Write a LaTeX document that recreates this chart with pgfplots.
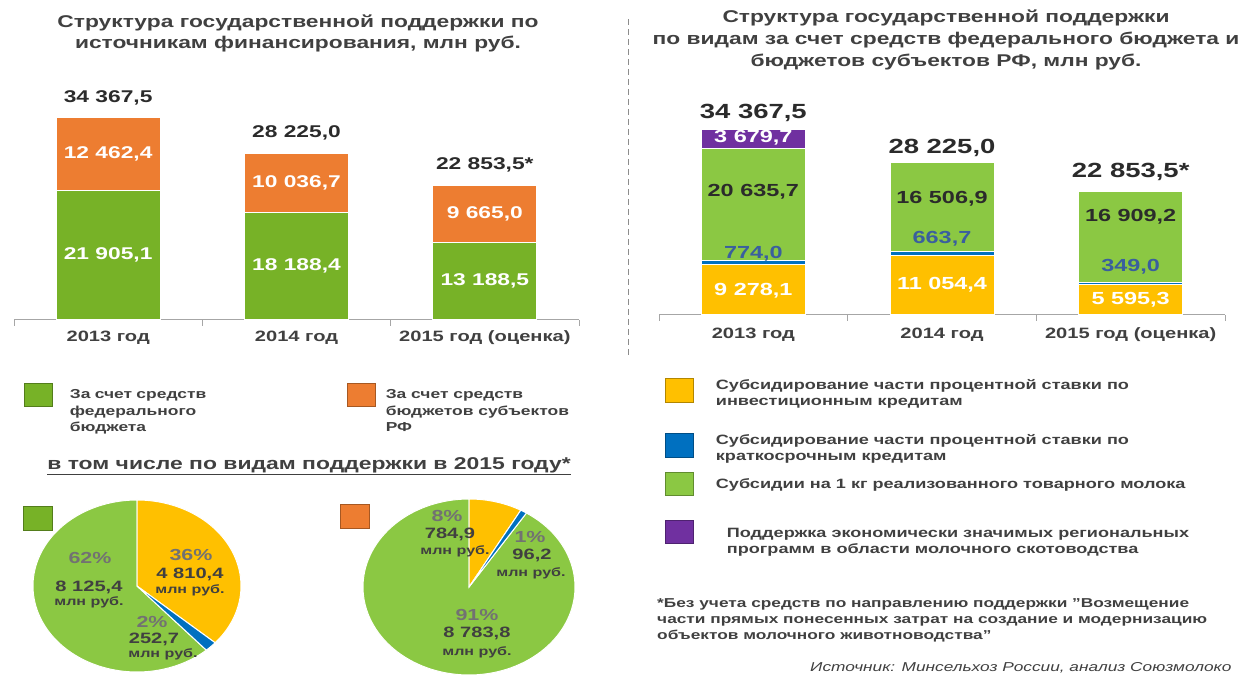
\documentclass[border=0pt]{standalone}
\usepackage{pgfplots}
\pgfplotsset{compat=1.18}
\usepackage{fontspec}
\setmainfont{Liberation Sans}[FakeStretch=1.34]
\definecolor{gL}{HTML}{77B227}
\definecolor{gR}{HTML}{8BC843}
\definecolor{org}{HTML}{ED7D31}
\definecolor{yel}{HTML}{FFC000}
\definecolor{blu}{HTML}{0070C0}
\definecolor{pur}{HTML}{7030A0}
\definecolor{txt}{HTML}{404040}
\definecolor{dk}{HTML}{2B2B2B}
\definecolor{bluetxt}{HTML}{3A5F9E}
\definecolor{pct}{HTML}{727272}
\newcommand\fs[2]{\fontsize{#1}{#2}\selectfont}
\newcommand\dq{{\char34}}
\pgfplotsset{
  sq/.style n args={4}{legend image code/.code={\filldraw[fill=#1, draw=#1!70!black, line width=0.8pt] (0pt,#2) rectangle (28pt,#3); \path (#4,0pt);}},
  pieleg/.style={legend image code/.code={\filldraw[fill=#1, draw=#1!70!black, line width=0.8pt] (0pt,-24pt) rectangle (29pt,0pt);}},
  baraxis/.style={
    scale only axis, anchor=south west,
    xmin=-0.5, xmax=2.5, ymin=0, ymax=36000, enlargelimits=false,
    axis x line=bottom, axis y line=none,
    axis line style={-, draw=black!35, line width=1pt},
    xtick={0,1,2}, xticklabels={2013 год,2014 год,2015 год (оценка)},
    minor xtick={-0.5,0.5,1.5,2.5},
    major tick length=0pt, minor tick length=6pt, tick align=outside,
    minor tick style={draw=black!35, line width=1pt},
    ytick=\empty,
    ybar stacked, bar width=104pt, clip=false,
  },
  pieaxis/.style={scale only axis, anchor=center, hide axis, clip=false,
    xmin=-1, xmax=1, ymin=-1, ymax=1,
    legend style={anchor=north west, draw=none, fill=none, inner sep=0pt, nodes={inner sep=0pt}}},
}
\tikzset{
  lbl/.style={font=\bfseries\fs{17}{20}},
  tot/.style={font=\bfseries\fs{17}{20}, text=dk},
  rlbl/.style={font=\bfseries\fs{17.5}{20}},
  rtot/.style={font=\bfseries\fs{20.5}{24}, text=dk},
  pp/.style={font=\bfseries\fs{16}{18}, text=pct},
  pv/.style={font=\bfseries\fs{15}{18}, text=txt},
  pm/.style={font=\bfseries\fs{12}{14}, text=txt},
}
\begin{document}
\begin{tikzpicture}[x=1pt,y=1pt]
\path[use as bounding box] (0,0) rectangle (1242,677);
% titles
\node[align=center, font=\bfseries\fs{17}{21.5}, text=txt] at (298,643.5)
  {Структура государственной поддержки по\\источникам финансирования, млн руб.};
\node[align=center, font=\bfseries\fs{17}{22}, text=txt] at (946,637)
  {Структура государственной поддержки\\по видам за счет средств федерального бюджета и\\бюджетов субъектов РФ, млн руб.};
\draw[black!45, line width=1pt, dash pattern=on 6pt off 4pt] (628,322) -- (628,659);

% left bars
\begin{axis}[baraxis, at={(14pt,357pt)}, width=565pt, height=212.6pt,
  xticklabel style={font=\bfseries\fs{15}{18}, text=txt, anchor=center, yshift=-18pt},
  legend columns=2,
  legend style={at={(axis description cs:0.0177,-0.2963)}, anchor=north west, draw=none, fill=none,
    inner sep=0pt, outer sep=0pt, column sep=0pt, cells={anchor=west},
    nodes={inner sep=0pt, text=txt, font=\bfseries\fs{13}{16.5}}},
]
\addplot[fill=gL, draw=white, line width=1pt, sq={gL}{-4.5pt}{18.5pt}{45pt}]
  coordinates {(0,21905.1) (1,18188.4) (2,13188.5)};
\addlegendentry[text width=277pt]{\begin{tabular}{@{}l@{}}За счет средств\\федерального\\бюджета\end{tabular}}
\addplot[fill=org, draw=white, line width=1pt, sq={org}{-4.5pt}{18.5pt}{38pt}]
  coordinates {(0,12462.4) (1,10036.7) (2,9665.0)};
\addlegendentry{\begin{tabular}{@{}l@{}}За счет средств\\бюджетов субъектов\\РФ\end{tabular}}
\coordinate (a1) at (axis cs:0,10952.6);
\coordinate (a2) at (axis cs:0,28136.3);
\coordinate (a3) at (axis cs:1,9094.2);
\coordinate (a4) at (axis cs:1,23206.8);
\coordinate (a5) at (axis cs:2,6594.3);
\coordinate (a6) at (axis cs:2,18021);
\coordinate (t1) at (axis cs:0,37585);
\coordinate (t2) at (axis cs:1,31659);
\coordinate (t3) at (axis cs:2,26242);
\end{axis}
\node[lbl, text=white] at (a1) {21 905,1};
\node[lbl, text=white] at (a2) {12 462,4};
\node[lbl, text=white] at (a3) {18 188,4};
\node[lbl, text=white] at (a4) {10 036,7};
\node[lbl, text=white] at (a5) {13 188,5};
\node[lbl, text=white] at (a6) {9 665,0};
\node[tot] at (t1) {34 367,5};
\node[tot] at (t2) {28 225,0};
\node[tot] at (t3) {22 853,5*};

% right bars
\begin{axis}[baraxis, at={(659pt,362pt)}, width=566pt, height=194.8pt,
  xticklabel style={font=\bfseries\fs{15}{18}, text=txt, anchor=center, yshift=-20pt},
  legend columns=1,
  legend style={at={(axis description cs:0.0106,-0.212)}, anchor=north west, draw=none, fill=none,
    inner sep=0pt, outer sep=0pt, column sep=0pt, row sep=0pt, cells={anchor=west},
    nodes={inner sep=0pt, text=txt, font=\bfseries\fs{13.5}{16}}},
]
\addplot[fill=yel, draw=white, line width=1pt, sq={yel}{-12.7pt}{11.3pt}{50pt}]
  coordinates {(0,9278.1) (1,11054.4) (2,5595.3)};
\addlegendentry[minimum height=66pt]{\begin{tabular}{@{}l@{}}Субсидирование части процентной ставки по\\инвестиционным кредитам\end{tabular}}
\addplot[fill=blu, draw=white, line width=1pt, sq={blu}{-12.7pt}{11.3pt}{50pt}]
  coordinates {(0,774.0) (1,663.7) (2,349.0)};
\addlegendentry[minimum height=44pt]{\begin{tabular}{@{}l@{}}Субсидирование части процентной ставки по\\краткосрочным кредитам\end{tabular}}
\addplot[fill=gR, draw=white, line width=1pt, sq={gR}{-10.7pt}{12.3pt}{50pt}]
  coordinates {(0,20635.7) (1,16506.9) (2,16909.2)};
\addlegendentry[minimum height=36pt]{Субсидии на 1 кг реализованного товарного молока}
\addplot[fill=pur, draw=white, line width=1pt, sq={pur}{-5.7pt}{17.3pt}{50pt}]
  coordinates {(0,3679.7)};
\addlegendentry[minimum height=70pt]{\hspace*{11pt}\begin{tabular}{@{}l@{}}Поддержка экономически значимых региональных\\программ в области молочного скотоводства\end{tabular}}
\coordinate (b1) at (axis cs:0,32710);
\coordinate (b2) at (axis cs:0,22730);
\coordinate (b3) at (axis cs:0,11273);
\coordinate (b4) at (axis cs:0,4435);
\coordinate (b5) at (axis cs:1,21437);
\coordinate (b6) at (axis cs:1,14045);
\coordinate (b7) at (axis cs:1,5544);
\coordinate (b8) at (axis cs:2,18110);
\coordinate (b9) at (axis cs:2,8870);
\coordinate (b10) at (axis cs:2,2772);
\coordinate (s1) at (axis cs:0,37330);
\coordinate (s2) at (axis cs:1,30862);
\coordinate (s3) at (axis cs:2,26426);
\end{axis}
\node[rlbl, text=white] at (b1) {3 679,7};
\node[rlbl, text=dk] at (b2) {20 635,7};
\node[rlbl, text=bluetxt] at (b3) {774,0};
\node[rlbl, text=white] at (b4) {9 278,1};
\node[rlbl, text=dk] at (b5) {16 506,9};
\node[rlbl, text=bluetxt] at (b6) {663,7};
\node[rlbl, text=white] at (b7) {11 054,4};
\node[rlbl, text=dk] at (b8) {16 909,2};
\node[rlbl, text=bluetxt] at (b9) {349,0};
\node[rlbl, text=white] at (b10) {5 595,3};
\node[rtot] at (s1) {34 367,5};
\node[rtot] at (s2) {28 225,0};
\node[rtot] at (s3) {22 853,5*};

% heading
\node[font=\bfseries\fs{17.1}{20}, text=txt] at (309,211) {\underline{в том числе по видам поддержки в 2015 году*}};

% left pie: 4810.4 / 252.7 / 8125.4 (total 13188.5)
\pgfmathsetmacro\La{90-4810.4/13188.5*360}
\pgfmathsetmacro\Lb{\La-252.7/13188.5*360}
\begin{axis}[pieaxis, at={(137pt,91pt)}, width=208pt, height=172pt,
  legend style={at={(axis description cs:-0.048,0.971)}}]
\addlegendimage{pieleg=gL}\addlegendentry{}
\addplot[fill=gR, draw=white, line width=1pt, domain=-270:\Lb, samples=120, variable=\t, forget plot]
  ({cos(\t)},{sin(\t)}) -- (axis cs:0,0) -- cycle;
\addplot[fill=yel, draw=white, line width=1pt, domain=\La:90, samples=60, variable=\t, forget plot]
  ({cos(\t)},{sin(\t)}) -- (axis cs:0,0) -- cycle;
\addplot[fill=blu, draw=white, line width=1pt, domain=\Lb:\La, samples=10, variable=\t, forget plot]
  ({cos(\t)},{sin(\t)}) -- (axis cs:0,0) -- cycle;
\end{axis}

% right pie: 784.9 / 96.2 / 8783.8 (total 9664.9)
\pgfmathsetmacro\Ra{90-784.9/9664.9*360}
\pgfmathsetmacro\Rb{\Ra-96.2/9664.9*360}
\begin{axis}[pieaxis, at={(469pt,90pt)}, width=212pt, height=176pt,
  legend style={at={(axis description cs:-0.1085,0.977)}}]
\addlegendimage{pieleg=org}\addlegendentry{}
\addplot[fill=gR, draw=white, line width=1pt, domain=-270:\Rb, samples=120, variable=\t, forget plot]
  ({cos(\t)},{sin(\t)}) -- (axis cs:0,0) -- cycle;
\addplot[fill=yel, draw=white, line width=1pt, domain=\Ra:90, samples=30, variable=\t, forget plot]
  ({cos(\t)},{sin(\t)}) -- (axis cs:0,0) -- cycle;
\addplot[fill=blu, draw=white, line width=1pt, domain=\Rb:\Ra, samples=10, variable=\t, forget plot]
  ({cos(\t)},{sin(\t)}) -- (axis cs:0,0) -- cycle;
\end{axis}

% pie labels
\node[pp] at (90,119) {62\%};
\node[pv] at (89,90) {8 125,4};
\node[pm] at (89,75) {млн руб.};
\node[pp] at (191,122) {36\%};
\node[pv] at (190,103) {4 810,4};
\node[pm] at (190,87) {млн руб.};
\node[pp] at (152,55) {2\%};
\node[pv] at (154,38) {252,7};
\node[pm] at (163,23) {млн руб.};

\node[pp] at (447,161) {8\%};
\node[pv] at (450,143) {784,9};
\node[pm] at (455,126) {млн руб.};
\node[pp] at (530,140) {1\%};
\node[pv] at (532,122) {96,2};
\node[pm] at (531,104) {млн руб.};
\node[pp] at (477,62) {91\%};
\node[pv] at (477,44) {8 783,8};
\node[pm] at (477,25) {млн руб.};

% footnote and source
\node[anchor=base west, inner sep=0pt, font=\bfseries\fs{12.9}{16}, text=txt] at (657,69.2)
  {\begin{tabular}[t]{@{}l@{}}*Без учета средств по направлению поддержки \dq Возмещение\\части прямых понесенных затрат на создание и модернизацию\\объектов молочного животноводства\dq\end{tabular}};
\node[anchor=west, inner sep=0pt, font=\itshape\fs{12.9}{16}, text=txt] at (810,9)
  {Источник: Минсельхоз России, анализ Союзмолоко};
\end{tikzpicture}
\end{document}
